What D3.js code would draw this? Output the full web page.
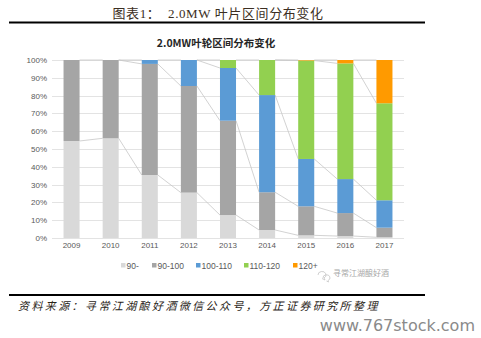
<!DOCTYPE html>
<html><head><meta charset="utf-8">
<script src="https://cdn.jsdelivr.net/npm/d3@7"></script>
<style>body{margin:0;background:#fff;}svg{display:block;}</style>
</head><body>
<svg id="c" width="481" height="338"></svg>
<script>
const years = ["2009","2010","2011","2012","2013","2014","2015","2016","2017"];
const seriesNames = ["90-","90-100","100-110","110-120","120+"];
const s90minus = [54.5, 56.0, 35.4, 25.5, 12.9, 4.5, 1.5, 1.1, 0.4];
const s90_100  = [45.5, 44.0, 62.4, 59.9, 53.0, 21.2, 16.3, 12.9, 5.4];
const s100_110 = [0, 0, 2.2, 14.6, 29.6, 54.6, 26.6, 19.1, 15.4];
const s110_120 = [0, 0, 0, 0, 4.5, 19.7, 55.3, 65.0, 54.5];
const s120plus = [0, 0, 0, 0, 0, 0, 0.3, 1.9, 24.3];
const yTicks = [0,10,20,30,40,50,60,70,80,90,100];
const colors = ["#d9d9d9","#a5a5a5","#5b9bd5","#92d050","#ff9a00"];

const svg = d3.select("#c");
const allSeries = [s90minus, s90_100, s100_110, s110_120, s120plus];
const table = years.map((y,i)=>{const o={year:y}; seriesNames.forEach((n,k)=>o[n]=allSeries[k][i]); return o;});
const stacked = d3.stack().keys(seriesNames)(table);

const x = d3.scaleBand().domain(years).range([52,404]).paddingInner(0.59).paddingOuter(0.295);
const y = d3.scaleLinear().domain([0,100]).range([238,60]);

// header
svg.append("text").attr("x",218).attr("y",18).attr("text-anchor","middle")
  .attr("font-family","'Liberation Serif','Noto Sans CJK SC',serif").attr("font-size",13).attr("fill","#3b2e22")
  .attr("letter-spacing",0.6).attr("xml:space","preserve").text("图表1：  2.0MW 叶片区间分布变化");
svg.append("rect").attr("x",9).attr("y",21.5).attr("width",416).attr("height",2).attr("fill","#000");

// chart title
svg.append("text").attr("x",216).attr("y",47).attr("text-anchor","middle")
  .attr("font-family","'Noto Sans CJK SC',sans-serif").attr("font-weight","bold").attr("font-size",10.5).attr("fill","#262626")
  .text("2.0MW叶轮区间分布变化");

// grid
svg.append("g").selectAll("line").data(yTicks).join("line")
  .attr("x1",52).attr("x2",404).attr("y1",d=>Math.round(y(d))+0.5).attr("y2",d=>Math.round(y(d))+0.5)
  .attr("stroke","#e3e3e3").attr("stroke-width",1);

// y axis labels
const ya = svg.append("g").attr("transform","translate(47,0)")
  .call(d3.axisLeft(y).tickValues(yTicks).tickFormat(d=>d+"%").tickSize(0).tickPadding(0));
ya.select(".domain").remove();
ya.selectAll("text").attr("font-family","'Liberation Sans',Arial,sans-serif").attr("font-size",8).attr("fill","#595959");

// x axis labels
const xa = svg.append("g").attr("transform","translate(0,242)")
  .call(d3.axisBottom(x).tickSize(0).tickPadding(0));
xa.select(".domain").remove();
xa.selectAll("text").attr("font-family","'Liberation Sans',Arial,sans-serif").attr("font-size",8).attr("fill","#595959").attr("dy","0.71em");

// series lines
const bw = x.bandwidth();
stacked.forEach(layer=>{
  for(let i=0;i<years.length-1;i++){
    const a=layer[i], b=layer[i+1];
    if ((a[1]-a[0])<=0 && (b[1]-b[0])<=0) continue;
    svg.append("line")
      .attr("x1",x(years[i])+bw).attr("y1",y(a[1]))
      .attr("x2",x(years[i+1])).attr("y2",y(b[1]))
      .attr("stroke","#c6c6c6").attr("stroke-width",0.8);
  }
});

// bars
svg.append("g").selectAll("g").data(stacked).join("g").attr("fill",(d,i)=>colors[i])
  .selectAll("rect").data(d=>d).join("rect")
  .attr("x",d=>x(d.data.year)).attr("width",bw)
  .attr("y",d=>y(d[1])).attr("height",d=>Math.max(0,y(d[0])-y(d[1])));

// legend
const legX = [121,152,196,244,293];
const lg = svg.append("g");
seriesNames.forEach((n,i)=>{
  lg.append("rect").attr("x",legX[i]).attr("y",263).attr("width",4.5).attr("height",4.5).attr("fill",colors[i]);
  lg.append("text").attr("x",legX[i]+5.5).attr("y",268.5).attr("font-family","'Liberation Sans',Arial,sans-serif")
    .attr("font-size",8.5).attr("fill","#595959").text(n);
});

// watermark
const wm = svg.append("g").attr("fill","none").attr("stroke","#c4c4c4").attr("stroke-width",0.8);
wm.append("path").attr("d","M318,275 a4,3.5 0 1 1 6,3 l1,2 l-3,-1.5");
wm.append("path").attr("d","M323,278 a3.5,3 0 1 1 5,2.5 l0.5,1.5 l-2,-1");
svg.append("text").attr("x",333).attr("y",276).attr("font-family","'Noto Sans CJK SC',sans-serif")
  .attr("font-size",8).attr("fill","#a8a8a8").text("寻常江湖酿好酒");

// bottom rule and source
svg.append("rect").attr("x",9).attr("y",294).attr("width",416).attr("height",2).attr("fill","#000");
svg.append("text").attr("x",18).attr("y",310).attr("font-family","'Noto Sans CJK SC',serif")
  .attr("font-style","italic").attr("font-size",11).attr("fill","#2a2418")
  .attr("letter-spacing",2.4)
  .text("资料来源：寻常江湖酿好酒微信公众号，方正证券研究所整理");
svg.append("text").attr("x",475).attr("y",331).attr("text-anchor","end").attr("font-family","'DejaVu Sans',sans-serif")
  .attr("font-size",16).attr("fill","#8a8a8a").text("www.767stock.com");
</script>
</body></html>
